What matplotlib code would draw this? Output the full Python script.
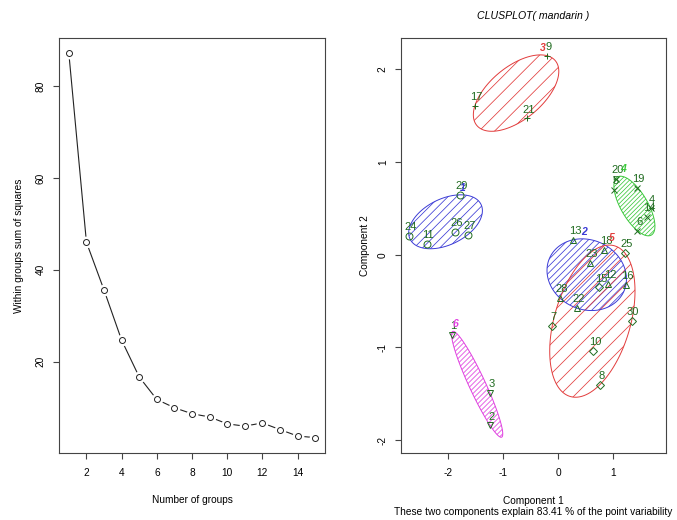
import numpy as np
import matplotlib
matplotlib.use("Agg")
import matplotlib.pyplot as plt
from matplotlib.patches import Polygon

plt.rcParams['font.family'] = ['Liberation Sans', 'DejaVu Sans']
plt.rcParams['axes.unicode_minus'] = False

# ---- elbow curve data ----
n_groups = list(range(1, 16))
wss = [87.1, 46.0, 35.6, 24.7, 16.7, 11.8, 10.0, 8.7, 8.0, 6.5, 6.0, 6.7, 5.25, 3.85, 3.5]

# ---- clusplot data (first two principal components) ----
point_ids = list(range(1, 31))
comp1 = [-1.94, -1.242, -1.242, 1.68, 1.018, 1.44, -0.109, 0.758, -0.211, 0.636,
         -2.393, 0.91, 0.273, 1.62, 0.745, 1.231, -1.515, 0.836, 1.425, 1.043,
         -0.575, 0.335, 0.576, -2.715, 1.213, -1.878, -1.647, 0.03, -1.787, 1.334]
comp2 = [-0.863, -1.84, -1.492, 0.50, 0.70, 0.26, -0.766, -1.402, 2.15, -1.036,
         0.115, -0.316, 0.162, 0.41, -0.352, -0.324, 1.611, 0.054, 0.72, 0.82,
         1.475, -0.575, -0.09, 0.205, 0.018, 0.245, 0.216, -0.467, 0.647, -0.712]
cluster = [6, 6, 6, 4, 4, 4, 5, 5, 3, 5,
           1, 2, 2, 4, 5, 2, 3, 2, 4, 4,
           3, 2, 2, 1, 5, 1, 1, 2, 1, 5]
cluster_ids = [1, 2, 3, 4, 5, 6]
variability = 83.41

# styling per cluster
clus_color = {1: '#3B3BD6', 2: '#3B3BD6', 3: '#E23C3C', 4: '#3CC83C', 5: '#E23C3C', 6: '#E040E0'}
clus_marker = {1: 'o', 2: '^', 3: '+', 4: 'x', 5: 'D', 6: 'v'}
hatch_px = {1: 8.6, 2: 6.7, 3: 15.5, 4: 4.4, 5: 15.0, 6: 5.0}  # horizontal spacing of shading lines
pt_color = '#1F6B1F'
frame_color = '#444444'
FS = 7.3

W, H = 677, 520
fig = plt.figure(figsize=(W / 100, H / 100), dpi=100)


def box(l, t, r, b):
    return [l / W, 1 - b / H, (r - l) / W, (b - t) / H]


def r_style(ax):
    for s in ax.spines.values():
        s.set_color(frame_color)
        s.set_linewidth(0.8)
    ax.tick_params(direction='out', length=4.5, width=0.8, color=frame_color,
                   labelsize=FS, pad=6.5)
    ax.tick_params(axis='y', pad=5)
    for lab in ax.get_yticklabels():
        lab.set_rotation(90)
        lab.set_va('center')


# ---------------- left panel: within-groups SS ----------------
ax1 = fig.add_axes(box(59, 38, 325, 453))
ax1.plot(n_groups, wss, color='#222222', lw=0.8, zorder=1)
ax1.plot(n_groups, wss, ls='none', marker='o', ms=8.5, mfc='white', mec='none', zorder=2)
ax1.plot(n_groups, wss, ls='none', marker='o', ms=4.3, mfc='none', mec='#222222',
         mew=0.7, zorder=3)
ax1.margins(x=0.04, y=0.04)
ax1.set_xticks([2, 4, 6, 8, 10, 12, 14])
ax1.set_yticks([20, 40, 60, 80])
r_style(ax1)
ax1.set_xlabel('Number of groups', fontsize=FS)
ax1.set_ylabel('Within groups sum of squares', fontsize=FS)
ax1.xaxis.set_label_coords(0.5, -0.101)
ax1.yaxis.set_label_coords(-0.132, 0.5)


# ---------------- right panel: clusplot ----------------
def mvee(P, tol=1e-9):
    """Minimum-area ellipse enclosing points P (Khachiyan)."""
    N, d = P.shape
    Q = np.vstack([P.T, np.ones(N)])
    u = np.ones(N) / N
    err = 1.0
    it = 0
    while err > tol and it < 20000:
        X = Q @ np.diag(u) @ Q.T
        M = np.einsum('ij,ji->i', Q.T @ np.linalg.inv(X), Q)
        j = np.argmax(M)
        step = (M[j] - d - 1) / ((d + 1) * (M[j] - 1))
        nu = (1 - step) * u
        nu[j] += step
        err = np.linalg.norm(nu - u)
        u = nu
        it += 1
    c = P.T @ u
    A = np.linalg.inv(P.T @ np.diag(u) @ P - np.outer(c, c)) / d
    return c, A


ax2 = fig.add_axes(box(401, 38, 666, 453))
ax2.set_xlim(-2.86, 1.96)
ax2.set_ylim(-2.14, 2.34)
ax2.set_xticks([-2, -1, 0, 1])
ax2.set_yticks([-2, -1, 0, 1, 2])
r_style(ax2)

x = np.array(comp1)
y = np.array(comp2)
cl = np.array(cluster)

# pixel scale of data units
p0 = ax2.transData.transform((0, 0))
p1 = ax2.transData.transform((1, 1))
sx, sy = p1[0] - p0[0], p1[1] - p0[1]

t = np.linspace(0, 2 * np.pi, 400)
tops = {}
for k in cluster_ids:
    P = np.column_stack([x[cl == k], y[cl == k]])
    c, A = mvee(P)
    vals, vecs = np.linalg.eigh(A)
    circ = np.vstack([np.cos(t), np.sin(t)])
    E = (vecs @ np.diag(1 / np.sqrt(vals)) @ circ).T + c
    col = clus_color[k]
    poly = Polygon(E, closed=True, fill=False, ec=col, lw=0.7, zorder=2)
    ax2.add_patch(poly)
    # 45-degree shading lines, clipped to the ellipse
    clip = Polygon(E, closed=True, fill=False, ec='none', transform=ax2.transData)
    ax2.add_patch(clip)
    ex, ey = E[:, 0] * sx, E[:, 1] * sy  # in pixels
    u_min, u_max = (ex - ey).min(), (ex - ey).max()
    span = ey.max() - ey.min() + ex.max() - ex.min()
    step = hatch_px[k]
    for uu in np.arange(u_min + step * 0.5, u_max, step):
        ys_px = np.array([ey.min() - span, ey.max() + span])
        xs_px = ys_px + uu
        ln, = ax2.plot(xs_px / sx, ys_px / sy, color=col, lw=0.55, zorder=1)
        ln.set_clip_path(clip)
    j = np.argmax(E[:, 1])
    tops[k] = (E[j, 0], E[j, 1])

# points and their labels
for pid, xi, yi, ki in zip(point_ids, x, y, cl):
    m = clus_marker[ki]
    ms = 4.0 if m == 'D' else 5.0
    ax2.plot([xi], [yi], ls='none', marker=m, ms=ms, mfc='none', mec=pt_color,
             mew=0.7, zorder=3)
    ax2.annotate(str(pid), (xi, yi), xytext=(1.2, 6.2), textcoords='offset points',
                 ha='center', va='center', fontsize=8, color=pt_color, zorder=4)

# cluster numbers at the top of each ellipse
for k in cluster_ids:
    ax2.annotate(str(k), tops[k], xytext=(1.5, 5.0), textcoords='offset points',
                 ha='center', va='center', fontsize=7.5, color=clus_color[k],
                 fontstyle='italic', fontweight='bold', zorder=5)

ax2.set_title('CLUSPLOT( mandarin )', fontsize=FS + 0.3, fontstyle='italic', y=1.026)
ax2.set_xlabel('Component 1', fontsize=FS)
ax2.set_ylabel('Component 2', fontsize=FS)
ax2.xaxis.set_label_coords(0.5, -0.104)
ax2.yaxis.set_label_coords(-0.117, 0.5)
ax2.text(0.5, -0.1414,
         'These two components explain %.2f %% of the point variability' % variability,
         transform=ax2.transAxes, ha='center', va='center', fontsize=FS)

fig.savefig('out.png', dpi=100)
